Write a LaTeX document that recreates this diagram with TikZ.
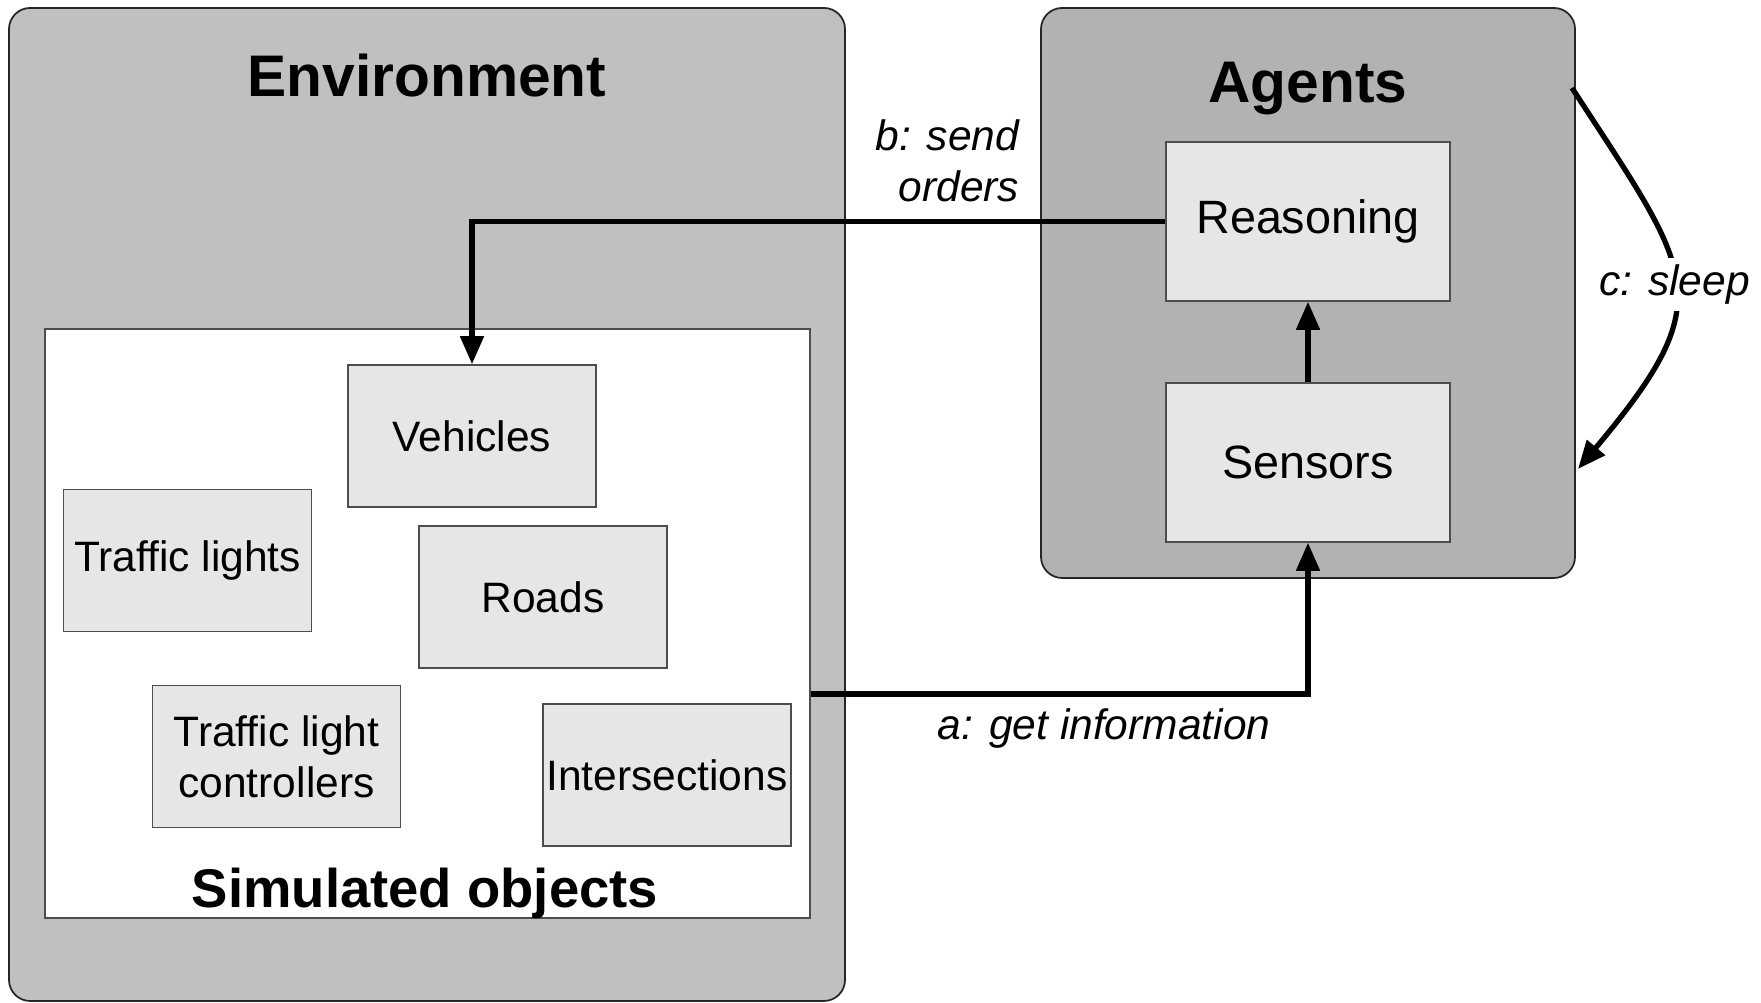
\documentclass[tikz,border=0pt]{standalone}
\usepackage{fontspec}
\setmainfont{Liberation Sans}
\usetikzlibrary{positioning,arrows.meta}
\definecolor{grisentorno}{HTML}{C0C0C0}
\definecolor{grisagentes}{HTML}{B2B2B2}
\definecolor{griscaja}{HTML}{E6E6E6}
\definecolor{bordecaja}{HTML}{4D4D4D}
\newcommand{\letranormal}{\fontsize{12.1}{14.5}\selectfont}
\tikzset{
  grupo/.style={rectangle, rounded corners=6pt, draw=black!85, line width=0.5pt},
  zona/.style={rectangle, draw=bordecaja, fill=white, line width=0.5pt},
  caja/.style={rectangle, draw=bordecaja, fill=griscaja, align=center, inner sep=1pt,
    minimum width=2.48cm, minimum height=1.42cm, font=\letranormal},
  cajagrande/.style={caja, minimum width=2.84cm, minimum height=1.59cm,
    font=\fontsize{13.3}{16}\selectfont},
  titulo/.style={font=\fontsize{16.7}{20}\selectfont\bfseries, anchor=base},
  etiqueta/.style={font=\letranormal\itshape, align=center},
  flecha/.style={-{Triangle[length=8pt,width=6.5pt]}, line width=1.5pt},
}

\begin{document}
\begin{tikzpicture}
    \useasboundingbox (0,0) rectangle (17.61,10.03);
    % Environment
    \node[grupo, fill=grisentorno, minimum width=8.36cm, minimum height=9.93cm] (env) at (4.27,4.985) {};
    \node[titulo] (envtit) at (4.27,9.06) {Environment};
    \node[zona, minimum width=7.65cm, minimum height=5.89cm] (sim) at (4.275,3.795) {};
    \node[titulo, font=\fontsize{15.5}{18}\selectfont\bfseries] (simtit) at (4.25,0.95) {Simulated objects};
    \node[caja] (veh) at (4.72,5.67) {Vehicles};
    \node[caja] (luces) at (1.875,4.425) {Traffic lights};
    \node[caja] (vias) at (5.43,4.06) {Roads};
    \node[caja] (ctrl) at (2.765,2.465) {Traffic light\\controllers};
    \node[caja] (inter) at (6.67,2.28) {Intersections};
    % Agents
    \node[grupo, fill=grisagentes, minimum width=5.34cm, minimum height=5.70cm] (agt) at (13.08,7.10) {};
    \node[titulo] (agttit) at (13.08,9.00) {Agents};
    \node[cajagrande] (razon) at (13.08,7.815) {Reasoning};
    \node[cajagrande] (sens) at (13.08,5.405) {Sensors};
    % a, b, c
    \draw[flecha] (sens) -- (razon);
    \draw[flecha] ([yshift=-0.705cm]sim.east) -| node[etiqueta, below, pos=0.295]{a: get information} (sens.south);
    \draw[flecha] (razon.west) -| node[etiqueta, align=right, anchor=south east, pos=0.095, yshift=1.5pt]{b: send\\orders} (veh.north);
    \coordinate (sueno1) at (15.72,9.15);
    \coordinate (sueno2) at (15.78,5.34);
    \draw[flecha] (sueno1) to[out=-57, in=50, looseness=1.5]
      node[etiqueta, fill=white, inner sep=2pt]{c: sleep} (sueno2);
  \end{tikzpicture}
\end{document}
